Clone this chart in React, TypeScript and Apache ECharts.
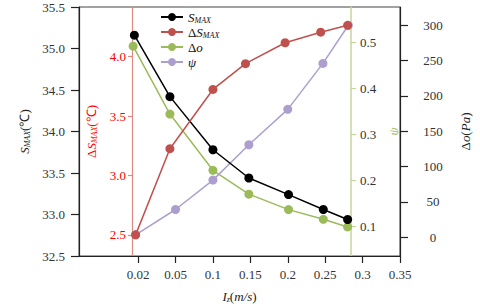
import React, { useEffect, useRef } from "react";
import * as echarts from "echarts";

// x tick labels (evenly spaced on the axis)
const X_TICKS = [0.02, 0.05, 0.1, 0.15, 0.2, 0.25, 0.3, 0.35];

// series (x in m/s, y values)
const X_SMAX = [0.017, 0.0455, 0.1, 0.148, 0.201, 0.2475, 0.28];
const S_MAX = [35.16, 34.42, 33.78, 33.44, 33.24, 33.06, 32.94];

const X_DSMAX = [0.018, 0.0455, 0.1, 0.1435, 0.1965, 0.244, 0.28];
const DS_MAX = [2.5, 3.225, 3.724, 3.941, 4.117, 4.206, 4.264];

const X_DO = [0.016, 0.0455, 0.1, 0.148, 0.201, 0.2475, 0.28];
const D_O = [270.5, 174.4, 94.7, 60.9, 39, 25.3, 14.5];

const X_PSI = [0.018, 0.05, 0.1, 0.148, 0.2, 0.247, 0.281];
const PSI = [0.082, 0.137, 0.201, 0.278, 0.355, 0.455, 0.538];

const RED_TICKS = [2.5, 3.0, 3.5, 4.0];
const PSI_TICKS = [0.1, 0.2, 0.3, 0.4, 0.5];
const DO_TICKS = [0, 50, 100, 150, 200, 250, 300];

const toIdx = (x: number) => {
  const n = X_TICKS.length;
  let i = 0;
  while (i < n - 2 && x > X_TICKS[i + 1]) i++;
  const a = X_TICKS[i];
  const b = X_TICKS[i + 1];
  return i + (x - a) / (b - a);
};

const pairs = (xs: number[], ys: number[]) => xs.map((x, i) => [toIdx(x), ys[i]]);

const SERIF = "Liberation Serif";
const INK = "#222";
const RED = "#c0504d";
const GREEN = "#9bbb59";
const PURPLE = "#ad9fcd";

const mkRich = (color: string) => ({
  n: { fontFamily: SERIF, fontSize: 13, color },
  i: { fontFamily: SERIF, fontSize: 13, fontStyle: "italic", color },
  sub: { fontFamily: SERIF, fontSize: 8, fontStyle: "italic", padding: [6, 0, 0, 0], color },
});

const LEGEND_TEXT: Record<string, string> = {
  SMAX: "{i|S}{sub|MAX}",
  dSMAX: "{n|Δ}{i|S}{sub|MAX}",
  do: "{n|Δ}{i|o}",
  psi: "{i|ψ}",
};

export default function App() {
  const ref = useRef<HTMLDivElement>(null);
  useEffect(() => {
    if (!ref.current) return;
    const chart = echarts.init(ref.current, null, { renderer: "svg" });
    const xMin = -1.58;
    const xMax = 7;
    const lbl = { fontFamily: SERIF, fontSize: 13, color: "#333" };
    chart.setOption({
      animation: false,
      backgroundColor: "#fff",
      textStyle: { fontFamily: SERIF, fontSize: 13 },
      grid: {
        left: 79,
        right: 70,
        top: 7,
        bottom: 50,
        show: true,
        borderColor: "#444",
        borderWidth: 1,
        backgroundColor: "transparent",
      },
      legend: {
        orient: "vertical",
        left: 155,
        top: 5,
        itemWidth: 22,
        itemHeight: 10,
        itemGap: 1,
        data: ["SMAX", "dSMAX", "do", "psi"],
        formatter: (name: string) => LEGEND_TEXT[name],
        textStyle: { fontFamily: SERIF, fontSize: 13, color: "#111", lineHeight: 14, rich: mkRich("#111") },
      },
      xAxis: {
        type: "value",
        min: xMin,
        max: xMax,
        name: "{i|I}{sub|z}{n|(}{i|m/s}{n|)}",
        nameLocation: "middle",
        nameGap: 33,
        nameTextStyle: { fontFamily: SERIF, rich: mkRich("#222") },
        axisLine: { onZero: false, lineStyle: { color: INK, width: 1.2 } },
        axisTick: {
          customValues: X_TICKS.map((_, i) => i),
          length: 7,
          lineStyle: { color: INK, width: 1.2 },
        },
        axisLabel: {
          customValues: X_TICKS.map((_, i) => i),
          formatter: (v: number) => String(X_TICKS[Math.round(v)]),
          margin: 12,
          ...lbl,
        },
        splitLine: { show: false },
      },
      yAxis: [
        {
          type: "value",
          position: "left",
          min: 32.5,
          max: 35.5,
          interval: 0.5,
          name: "{i|S}{sub|MAX}{n|(℃)}",
          nameLocation: "middle",
          nameGap: 40,
          nameRotate: 90,
          nameTextStyle: { fontFamily: SERIF, rich: mkRich("#222") },
          axisLine: { show: true, onZero: false, lineStyle: { color: INK, width: 1.2 } },
          axisTick: { length: 8, lineStyle: { color: INK, width: 1.2 } },
          axisLabel: { formatter: (v: number) => v.toFixed(1), margin: 14, ...lbl },
          splitLine: { show: false },
        },
        {
          type: "value",
          position: "left",
          offset: -53,
          min: 2.322,
          max: 4.418,
          name: "{n|Δ}{i|S}{sub|MAX}{n|(℃)}",
          nameLocation: "middle",
          nameGap: 32,
          nameRotate: 90,
          nameTextStyle: { fontFamily: SERIF, rich: mkRich("#ff0000") },
          axisLine: { show: true, onZero: false, lineStyle: { color: "#e08a86", width: 1.2 } },
          axisTick: {
            customValues: RED_TICKS,
            length: 4,
            lineStyle: { color: "#e08a86", width: 1.2 },
          },
          axisLabel: {
            customValues: RED_TICKS,
            formatter: (v: number) => v.toFixed(1),
            margin: 6,
            fontFamily: SERIF,
            fontSize: 13,
            color: "#ff0000",
          },
          splitLine: { show: false },
        },
        {
          type: "value",
          position: "right",
          offset: -49,
          min: 0.0358,
          max: 0.5778,
          name: "{i|ψ}",
          nameLocation: "middle",
          nameGap: 28,
          nameRotate: 90,
          nameTextStyle: { fontFamily: SERIF, rich: mkRich(GREEN) },
          axisLine: { show: true, onZero: false, lineStyle: { color: "#c3d69b", width: 1.5 } },
          axisTick: {
            customValues: PSI_TICKS,
            length: 5,
            lineStyle: { color: "#c3d69b", width: 1.2 },
          },
          axisLabel: {
            customValues: PSI_TICKS,
            formatter: (v: number) => v.toFixed(1),
            margin: 9,
            ...lbl,
          },
          splitLine: { show: false },
        },
        {
          type: "value",
          position: "right",
          min: -26.7,
          max: 326,
          name: "{n|Δ}{i|o}{n|(}{i|Pa}{n|)}",
          nameLocation: "middle",
          nameGap: 59,
          nameRotate: 90,
          nameTextStyle: { fontFamily: SERIF, rich: mkRich("#222") },
          axisLine: { show: true, onZero: false, lineStyle: { color: INK, width: 1.2 } },
          axisTick: {
            customValues: DO_TICKS,
            length: 8,
            lineStyle: { color: INK, width: 1.2 },
          },
          axisLabel: {
            customValues: DO_TICKS,
            align: "center",
            margin: 33,
            ...lbl,
          },
          splitLine: { show: false },
        },
      ],
      series: [
        {
          name: "SMAX",
          type: "line",
          yAxisIndex: 0,
          data: pairs(X_SMAX, S_MAX),
          symbol: "circle",
          symbolSize: 9,
          itemStyle: { color: "#000" },
          lineStyle: { color: "#000", width: 1.5 },
          z: 3,
        },
        {
          name: "dSMAX",
          type: "line",
          yAxisIndex: 1,
          data: pairs(X_DSMAX, DS_MAX),
          symbol: "circle",
          symbolSize: 9,
          itemStyle: { color: RED },
          lineStyle: { color: RED, width: 1.5 },
          z: 4,
        },
        {
          name: "do",
          type: "line",
          yAxisIndex: 3,
          data: pairs(X_DO, D_O),
          symbol: "circle",
          symbolSize: 9,
          itemStyle: { color: GREEN },
          lineStyle: { color: GREEN, width: 1.5 },
          z: 2,
        },
        {
          name: "psi",
          type: "line",
          yAxisIndex: 2,
          data: pairs(X_PSI, PSI),
          symbol: "circle",
          symbolSize: 9,
          itemStyle: { color: PURPLE },
          lineStyle: { color: PURPLE, width: 1.5 },
          z: 2,
        },
      ],
    });
    return () => chart.dispose();
  }, []);
  return <div ref={ref} style={{ width: 480, height: 308, position: "absolute", left: 0, top: 0 }} />;
}
